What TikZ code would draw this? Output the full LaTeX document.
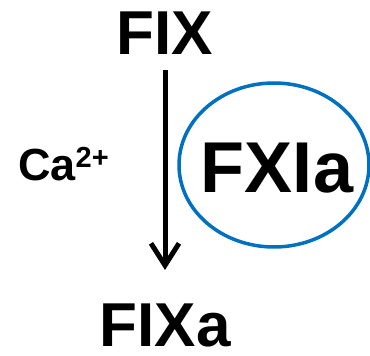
\documentclass[tikz,border=0pt]{standalone}
\usepackage{fontspec}
\setmainfont{Liberation Sans}
\usetikzlibrary{arrows.meta}
\definecolor{ovalblue}{RGB}{0,112,192}
\tikzset{
  lbl/.style={font=\bfseries, inner sep=0pt, anchor=base},
  oval/.style={draw=ovalblue, line width=3.5pt},
  rxn/.style={line width=5pt, -{Straight Barb[length=22pt,width=28pt,line width=5pt]}}
}
\begin{document}
\begin{tikzpicture}[x=1pt,y=1pt]
\useasboundingbox (0,0) rectangle (370,356);
\node[lbl, font=\bfseries\fontsize{62}{62}\selectfont] (fix) at (165,301) {FIX};
\node[lbl, font=\bfseries\fontsize{62}{62}\selectfont] (fixa) at (165,9) {FIXa};
\coordinate (top) at (165,286);
\coordinate (tip) at (165,86);
\draw[rxn] (top) -- (tip);
\node[lbl, font=\bfseries\fontsize{45}{45}\selectfont, anchor=base west] (ca) at (18,175) {Ca\raisebox{13pt}{\fontsize{29}{29}\selectfont 2+}};
\draw[oval] (274,191) ellipse [x radius=95, y radius=82];
\node[lbl, font=\bfseries\fontsize{72}{72}\selectfont] (fxia) at (277,163) {FXIa};
\end{tikzpicture}
\end{document}
